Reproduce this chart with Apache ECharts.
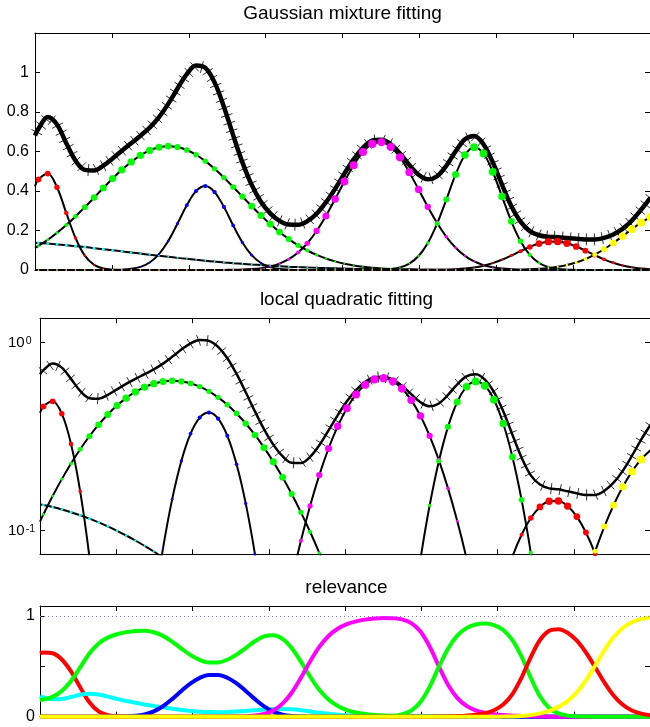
<!DOCTYPE html>
<html>
<head>
<meta charset="utf-8">
<script src="https://cdn.jsdelivr.net/npm/echarts@6/dist/echarts.min.js"></script>
<style>html,body{margin:0;padding:0;background:#fff}#c{width:650px;height:727px}</style>
</head>
<body>
<div id="c"></div>
<script>
// ---- data ----
const xs = [0, 0.045, 0.166, 0.286, 0.407, 0.527, 0.648, 0.769, 0.889, 1.010, 1.130, 1.251, 1.372, 1.492, 1.613, 1.733, 1.854, 1.975, 2.095, 2.216, 2.336, 2.457, 2.578, 2.698, 2.819, 2.939, 3.060, 3.181, 3.301, 3.422, 3.542, 3.663, 3.784, 3.904, 4.025, 4.145, 4.266, 4.387, 4.507, 4.628, 4.748, 4.869, 4.990, 5.110, 5.231, 5.351, 5.472, 5.593, 5.713, 5.834, 5.954, 6.075, 6.196, 6.316, 6.437, 6.557, 6.678, 6.799, 6.919, 7.040, 7.160, 7.281, 7.402, 7.522, 7.643, 7.763, 7.884, 8.005];

// observed data curve (thick hatched line)
const total = [0.680, 0.715, 0.775, 0.737, 0.642, 0.554, 0.507, 0.504, 0.528, 0.565, 0.604, 0.642, 0.680, 0.721, 0.774, 0.841, 0.919, 0.992, 1.035, 1.023, 0.950, 0.827, 0.682, 0.545, 0.431, 0.346, 0.287, 0.249, 0.230, 0.229, 0.247, 0.285, 0.342, 0.411, 0.488, 0.560, 0.619, 0.655, 0.660, 0.637, 0.590, 0.532, 0.482, 0.459, 0.475, 0.528, 0.601, 0.662, 0.679, 0.637, 0.546, 0.432, 0.324, 0.245, 0.197, 0.176, 0.168, 0.166, 0.162, 0.158, 0.155, 0.155, 0.163, 0.180, 0.208, 0.250, 0.305, 0.365];

// mixture components
const red1 = [0.424, 0.458, 0.488, 0.419, 0.289, 0.162, 0.0727, 0.0263, 0.0077, 0.0018, 0.00035, 0.00005,
  0, 0, 0, 0, 0, 0, 0, 0, 0, 0, 0, 0, 0, 0, 0, 0, 0, 0, 0, 0, 0, 0, 0, 0, 0, 0, 0, 0, 0, 0, 0, 0, 0, 0, 0, 0, 0, 0, 0, 0, 0, 0, 0, 0, 0, 0, 0, 0, 0, 0, 0, 0, 0, 0, 0, 0];
const cyan = [0.138, 0.137, 0.1336, 0.1297, 0.1254, 0.1208, 0.1159, 0.1107, 0.1054, 0.0999, 0.0943, 0.0887, 0.0830, 0.0775, 0.0720, 0.0667, 0.0614, 0.0564, 0.0516, 0.0470, 0.0426, 0.0385, 0.0347, 0.0311, 0.0277, 0.0247, 0.0219, 0.0193, 0.0169, 0.0148, 0.0129, 0.0112, 0.0097, 0.0084, 0.0072, 0.0061, 0.0052, 0.0044, 0.0037, 0.0031, 0.0026, 0.0022, 0.0018, 0.0015, 0.0012, 0.0010, 0.0008, 0.0007, 0.0006, 0.0005, 0.0004, 0.0003, 0.0002, 0.0002, 0.0001, 0.0001, 0.0001, 0.0001,
  0, 0, 0, 0, 0, 0, 0, 0, 0, 0];
const green1 = [0.1118, 0.1221, 0.1529, 0.1881, 0.2279, 0.2712, 0.318, 0.3665, 0.4151, 0.4629, 0.5072, 0.5472, 0.5805, 0.6054, 0.6212, 0.627, 0.6224, 0.6076, 0.5835, 0.5511, 0.5122, 0.4679, 0.4203, 0.3718, 0.3231, 0.2765, 0.2324, 0.1922, 0.1566, 0.1252, 0.0987, 0.0763, 0.0581, 0.0436, 0.0320, 0.0233, 0.0166, 0.0116, 0.0080, 0.0054, 0.0036, 0.0024, 0.0015, 0.00097, 0.00061, 0.00037, 0.00023, 0.00013, 0.00008, 0.00004,
  0, 0, 0, 0, 0, 0, 0, 0, 0, 0, 0, 0, 0, 0, 0, 0, 0, 0];
const blue = [0, 0, 0, 0, 0, 0, 0, 0.00003, 0.00012, 0.00051, 0.00183, 0.00578, 0.01597, 0.0382, 0.0804, 0.1468, 0.2351, 0.3283, 0.3996, 0.425, 0.3946, 0.3196, 0.2257, 0.1397, 0.0751, 0.0355, 0.01453, 0.00518, 0.00163, 0.00045, 0.00011,
  0, 0, 0, 0, 0, 0, 0, 0, 0, 0, 0, 0, 0, 0, 0, 0, 0, 0, 0, 0, 0, 0, 0, 0, 0, 0, 0, 0, 0, 0, 0, 0, 0, 0, 0, 0, 0];
const magenta = [0, 0, 0, 0, 0, 0, 0, 0, 0, 0, 0, 0, 0, 0, 0, 0, 0, 0,
  0.00003, 0.00007, 0.00018, 0.00045, 0.00104, 0.00228, 0.00478, 0.00947, 0.01792, 0.0322, 0.0546, 0.0884, 0.1354, 0.1976, 0.2737, 0.3591, 0.4483, 0.5307, 0.5973, 0.6381, 0.6472, 0.6232, 0.5703, 0.4950, 0.4079, 0.3198, 0.2375, 0.1680, 0.1125, 0.0715, 0.0433, 0.0248, 0.01357, 0.00701, 0.00344, 0.00161, 0.00071, 0.0003, 0.00012, 0.00005,
  0, 0, 0, 0, 0, 0, 0, 0, 0, 0];
const green2 = [0, 0, 0, 0, 0, 0, 0, 0, 0, 0, 0, 0, 0, 0, 0, 0, 0, 0, 0, 0, 0, 0, 0, 0, 0, 0, 0, 0, 0, 0, 0, 0, 0, 0, 0,
  0.000025, 0.00011, 0.00044, 0.00153, 0.0048, 0.01316, 0.03235, 0.0707, 0.1362, 0.2344, 0.3568, 0.4839, 0.5824, 0.622, 0.5899, 0.4974, 0.3719, 0.2467, 0.1459, 0.0763, 0.0356, 0.01469, 0.00537, 0.00176, 0.00051, 0.00013, 0.00003,
  0, 0, 0, 0, 0, 0];
const red2 = [0, 0, 0, 0, 0, 0, 0, 0, 0, 0, 0, 0, 0, 0, 0, 0, 0, 0, 0, 0, 0, 0, 0, 0, 0, 0, 0, 0, 0, 0, 0, 0, 0, 0, 0, 0, 0, 0, 0, 0, 0,
  0.00005, 0.00013, 0.00032, 0.00077, 0.00172, 0.00359, 0.0070, 0.01275, 0.0218, 0.0348, 0.0520, 0.0729, 0.0952, 0.1168, 0.1338, 0.1435, 0.1440, 0.1353, 0.1189, 0.0979, 0.0753, 0.0541, 0.0365, 0.0230, 0.0136, 0.0075, 0.0039];
const yellow = [0, 0, 0, 0, 0, 0, 0, 0, 0, 0, 0, 0, 0, 0, 0, 0, 0, 0, 0, 0, 0, 0, 0, 0, 0, 0, 0, 0, 0, 0, 0, 0, 0, 0, 0, 0, 0, 0, 0, 0, 0, 0, 0, 0, 0, 0, 0, 0,
  0.00005, 0.00011, 0.00023, 0.00048, 0.00095, 0.0018, 0.0033, 0.0058, 0.0098, 0.0160, 0.0251, 0.0381, 0.0554, 0.0778, 0.1052, 0.1366, 0.1712, 0.2062, 0.2395, 0.2679];

const titles = ['Gaussian mixture fitting', 'local quadratic fitting', 'relevance'];

// ---- derived ----
const comps = [red1, cyan, green1, blue, magenta, green2, red2, yellow];
const compColors = ['#ff0000', '#00ffff', '#00ff00', '#0000ff', '#ff00ff', '#00ff00', '#ff0000', '#ffff00'];
const compSum = xs.map((_, i) => comps.reduce((s, c) => s + c[i], 0));
const rel = comps.map(c => c.map((v, i) => v / compSum[i]));

const FONT = '"Liberation Sans", Arial, Helvetica, sans-serif';
const chart = echarts.init(document.getElementById('c'), null, {renderer: 'canvas', width: 650, height: 727});

const grids = [
  {left: 35, top: 33, width: 618, height: 237},
  {left: 40, top: 318.2, width: 613.6, height: 236},
  {left: 40, top: 606, width: 613.6, height: 110.7}
];

const lineBlack = {show: true, onZero: false, lineStyle: {color: '#000', width: 1}};
const tickIn = {show: true, inside: true, length: 5, lineStyle: {color: '#000', width: 1}};

function xAx(g, pos) {
  return {type: 'value', gridIndex: g, position: pos, min: 0, max: 8, interval: 1,
    axisLine: lineBlack, axisTick: tickIn, axisLabel: {show: false}, splitLine: {show: false}};
}
const xAxes = [xAx(0, 'bottom'), xAx(0, 'top'), xAx(1, 'bottom'), xAx(1, 'top'), xAx(2, 'bottom'), xAx(2, 'top')];

const lbl16 = {fontSize: 16, color: '#000', fontFamily: FONT};
const yAxes = [
  {type: 'value', gridIndex: 0, position: 'left', min: 0, max: 1.2, interval: 0.2,
    axisLine: lineBlack, axisTick: tickIn, splitLine: {show: false},
    axisLabel: Object.assign({margin: 6, formatter: v => (v <= 1.0001 ? String(+v.toFixed(1)) : '')}, lbl16)},
  {type: 'value', gridIndex: 0, position: 'right', min: 0, max: 1.2, interval: 0.2,
    axisLine: lineBlack, axisTick: tickIn, splitLine: {show: false}, axisLabel: {show: false}},
  {type: 'log', logBase: 10, gridIndex: 1, position: 'left', min: 0.075, max: 1.35,
    axisLine: lineBlack, axisTick: tickIn, splitLine: {show: false}, minorTick: {show: false},
    axisLabel: {align: 'left', margin: 32,
      formatter: v => { const l = Math.log10(v); const e = Math.round(l); return Math.abs(l - e) < 1e-6 ? '{b|10}{s|' + e + '}' : ''; },
      rich: {
        b: {fontSize: 15, fontFamily: FONT, color: '#000', verticalAlign: 'bottom', lineHeight: 15},
        s: {fontSize: 10.5, fontFamily: FONT, color: '#000', verticalAlign: 'top', lineHeight: 11, padding: [0, 0, 8, 1]}
      }}},
  {type: 'log', logBase: 10, gridIndex: 1, position: 'right', min: 0.075, max: 1.35,
    axisLine: lineBlack, axisTick: tickIn, splitLine: {show: false}, axisLabel: {show: false}},
  {type: 'value', gridIndex: 2, position: 'left', min: 0, max: 1.1, interval: 0.5,
    axisLine: lineBlack, axisTick: tickIn, splitLine: {show: false},
    axisLabel: Object.assign({margin: 5, formatter: v => (Math.abs(v) < 1e-9 ? '0' : Math.abs(v - 1) < 1e-9 ? '1' : '')}, lbl16)},
  {type: 'value', gridIndex: 2, position: 'right', min: 0, max: 1.1, interval: 0.5,
    axisLine: lineBlack, axisTick: tickIn, splitLine: {show: false}, axisLabel: {show: false}}
];

function hatchSeries(ax, spacing, len) {
  return {
    type: 'custom', xAxisIndex: ax, yAxisIndex: ax, silent: true,
    data: [[xs[0], total[0]]],
    renderItem: function (params, api) {
      const pts = xs.map((x, i) => api.coord([x, total[i]]));
      const children = [];
      let acc = spacing / 2;
      for (let i = 0; i < pts.length - 1; i++) {
        const p = pts[i], q = pts[i + 1];
        const dx = q[0] - p[0], dy = q[1] - p[1];
        const seg = Math.hypot(dx, dy);
        if (seg === 0) continue;
        const nx = -dy / seg, ny = dx / seg;
        while (acc <= seg) {
          const t = acc / seg;
          const cx = p[0] + dx * t, cy = p[1] + dy * t;
          children.push({type: 'line', shape: {x1: cx - nx * len / 2, y1: cy - ny * len / 2, x2: cx + nx * len / 2, y2: cy + ny * len / 2},
            style: {stroke: '#333', lineWidth: 1}});
          acc += spacing;
        }
        acc -= seg;
      }
      return {type: 'group', children: children};
    }
  };
}

function valOf(v, log) { return log ? (v > 0 ? v : null) : v; }

function totalLine(ax, width, log) {
  return {type: 'line', xAxisIndex: ax, yAxisIndex: ax, silent: true, symbol: 'none', smooth: 0.35,
    clip: log, data: xs.map((x, i) => [x, total[i]]), lineStyle: {color: '#000', width: width}};
}
function compLine(ci, ax, width, log) {
  return {type: 'line', xAxisIndex: ax, yAxisIndex: ax, silent: true, symbol: 'none', smooth: 0.35,
    clip: log, data: xs.map((x, i) => [x, valOf(comps[ci][i], log)]), lineStyle: {color: '#000', width: width}};
}
function dotSeries(ci, ax, log) {
  const data = [];
  for (let i = 1; i < xs.length; i++) {
    const v = comps[ci][i];
    if (log && !(v > 0)) continue;
    data.push([xs[i], v, rel[ci][i]]);
  }
  return {type: 'scatter', xAxisIndex: ax, yAxisIndex: ax, silent: true, clip: log, data: data,
    symbol: 'circle', symbolSize: d => 1.4 + 7 * d[2], itemStyle: {color: compColors[ci], opacity: 1}, z: 3};
}
function relLine(ci) {
  const s = {type: 'line', xAxisIndex: 4, yAxisIndex: 4, silent: true, symbol: 'none', smooth: 0.35, clip: false,
    data: xs.map((x, i) => [x, rel[ci][i]]), lineStyle: {color: compColors[ci], width: 4}};
  if (ci === 0) {
    s.markLine = {silent: true, symbol: ['none', 'none'], label: {show: false}, animation: false,
      lineStyle: {color: '#6f6fff', type: [1, 3], width: 1}, data: [{yAxis: 1}]};
  }
  return s;
}

const series = [];
// panel 1: linear
series.push(hatchSeries(0, 8, 12));
series.push(totalLine(0, 4.5, false));
comps.forEach((c, ci) => series.push(compLine(ci, 0, 2, false)));
comps.forEach((c, ci) => series.push(dotSeries(ci, 0, false)));
// panel 2: log
series.push(hatchSeries(2, 9, 11));
series.push(totalLine(2, 2.5, true));
comps.forEach((c, ci) => series.push(compLine(ci, 2, 2, true)));
comps.forEach((c, ci) => series.push(dotSeries(ci, 2, true)));
// panel 3: relevance
comps.forEach((c, ci) => series.push(relLine(ci)));

const titlePos = [[342.5, 14], [346.5, 299.5], [346.5, 587.5]];
const graphic = titles.map((t, i) => ({
  type: 'text', x: titlePos[i][0], y: titlePos[i][1], silent: true,
  style: {text: t, fontSize: 19, fontFamily: FONT, fill: '#000', align: 'center', verticalAlign: 'middle'}
}));

chart.setOption({
  animation: false,
  backgroundColor: '#fff',
  textStyle: {fontFamily: FONT},
  grid: grids,
  xAxis: xAxes,
  yAxis: yAxes,
  series: series,
  graphic: graphic
});
</script>
</body>
</html>
